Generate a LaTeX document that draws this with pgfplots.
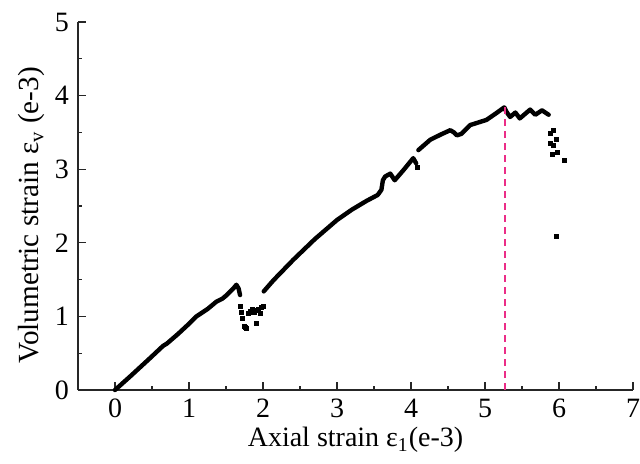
\documentclass[border=0pt]{standalone}
\usepackage{fontspec}
\setmainfont{Liberation Serif}
\usepackage{pgfplots}
\pgfplotsset{compat=1.18}
\definecolor{pinkred}{RGB}{235,45,135}
\begin{document}
\begin{tikzpicture}
\path[use as bounding box] (-39pt,-36.5pt) rectangle (281pt,195pt);
\begin{axis}[
  at={(0,0)}, anchor=south west,
  scale only axis, width=277.5pt, height=184pt,
  xmin=-0.5, xmax=7, ymin=0, ymax=5,
  axis x line*=bottom, axis y line*=left,
  axis line style={-, line width=0.6pt, black!85},
  xtick={0,1,...,7}, ytick={0,1,...,5},
  minor x tick num=1, minor y tick num=1,
  tick align=inside,
  major tick length=4pt, minor tick length=2.2pt,
  tick style={line width=0.6pt, black!85},
  /pgf/number format/assume math mode=true,
  ticklabel style={font=\fontsize{14}{16}\selectfont},
  xticklabel style={yshift=-1pt},
  yticklabel style={xshift=-1pt},
  xlabel={Axial strain ε\textsubscript{1}(e-3)},
  ylabel={Volumetric strain ε\textsubscript{v} (e-3)},
  xlabel style={font=\fontsize{14}{17}\selectfont, at={(axis description cs:0.5,-0.136)}, anchor=center},
  ylabel style={font=\fontsize{14.6}{17}\selectfont, at={(axis description cs:-0.083,0.475)}, anchor=center, rotate=0},
  clip=false,
]
% main curve segments
\addplot[black, line width=2.2pt, line cap=round, line join=round] coordinates {
(0,0) (0.2,0.18) (0.47,0.43) (0.65,0.60) (0.70,0.63) (0.85,0.76) (1.0,0.90) (1.06,0.96) (1.10,1.00) (1.25,1.10) (1.37,1.20) (1.45,1.24) (1.51,1.29) (1.60,1.38) (1.64,1.43) (1.67,1.38) (1.69,1.29)
};
\addplot[black, line width=2.2pt, line cap=round, line join=round] coordinates {
(2.01,1.34) (2.14,1.49) (2.41,1.77) (2.70,2.05) (3.00,2.31) (3.20,2.45) (3.40,2.57) (3.55,2.65) (3.60,2.72) (3.62,2.85) (3.65,2.90) (3.72,2.94) (3.78,2.85) (3.84,2.92) (3.90,2.99) (4.03,3.15) (4.07,3.08)
};
\addplot[black, line width=2.2pt, line cap=round, line join=round] coordinates {
(4.10,3.26) (4.26,3.40) (4.40,3.47) (4.53,3.53) (4.58,3.50) (4.62,3.46) (4.68,3.48) (4.80,3.60) (5.02,3.67) (5.15,3.76) (5.26,3.84) (5.29,3.78) (5.34,3.71) (5.41,3.77) (5.47,3.69) (5.61,3.81) (5.68,3.74) (5.77,3.80) (5.86,3.74)
};
% scattered points
\addplot[only marks, mark=square*, mark size=1pt, black] coordinates {
(1.70,1.13) (1.71,1.06) (1.72,0.97) (1.75,0.87) (1.76,0.85) (1.78,0.84)
(1.80,1.04) (1.83,1.07) (1.85,1.09) (1.87,1.05) (1.89,1.06) (1.91,0.90) (1.92,1.08) (1.94,1.09) (1.96,1.04) (1.98,1.12) (2.00,1.13)
(4.08,3.02)
(5.92,3.53) (5.89,3.49) (5.97,3.41) (5.88,3.35) (5.92,3.32) (5.98,3.23) (5.91,3.20) (6.07,3.12) (5.96,2.09)
};
% peak marker line
\addplot[pinkred, line width=0.7pt, dash pattern=on 3.5pt off 2.5pt] coordinates {(5.27,0) (5.27,3.84)};
\end{axis}
\end{tikzpicture}
\end{document}
